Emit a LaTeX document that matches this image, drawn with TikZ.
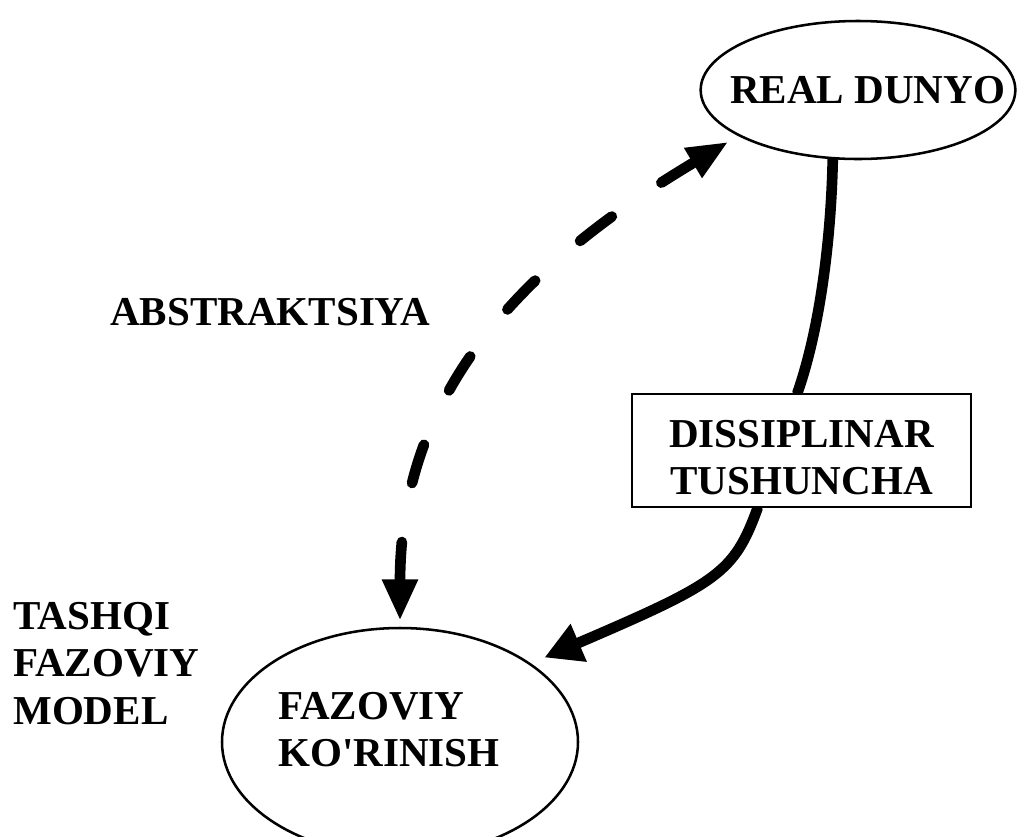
\documentclass[tikz,border=0pt]{standalone}
\usepackage{fontspec}
\newfontfamily\lblfam{Liberation Serif}[Ligatures=TeXOff]
\usetikzlibrary{shapes.geometric,arrows.meta,backgrounds}
\newcommand\lblfont{\lblfam\fontsize{30.8pt}{35.5pt}\selectfont\bfseries}
\begin{document}
\begin{tikzpicture}[x=0.75pt,y=-0.75pt,
  outline/.style={draw, line width=1.9pt, fill=white, inner sep=0pt},
  lbl/.style={font=\lblfont, inner sep=0pt, align=left},
  link/.style={line width=8pt, line cap=round},
  bighead/.style={-{Triangle[length=28pt,width=29pt]}},
  dashhead/.style={{Triangle[length=31pt,width=25pt]}-{Triangle[length=31pt,width=24pt]}}]
\useasboundingbox (0,0) rectangle (1020,836);

% the two ellipses and their captions
\node[outline, ellipse, minimum width=236pt, minimum height=103.5pt] (rd) at (858,90) {};
\node[lbl, anchor=base west] (rdl) at (730,103) {REAL DUNYO};
\node[outline, ellipse, minimum width=267pt, minimum height=171pt] (fz) at (400,742) {};
\node[lbl, anchor=north west] (fzl) at (278,692) {FAZOVIY\\KO'RINISH};

% boxed concept sitting on the solid link
\node[outline, rectangle, font=\lblfont, align=center,
      minimum width=254pt, minimum height=84.75pt] (dt) at (801.5,450.5)
      {\rule{0pt}{31pt}DISSIPLINAR\\TUSHUNCHA};

% free labels
\node[lbl, anchor=base west] (abs) at (110,325) {ABSTRAKTSIYA};
\node[lbl, anchor=north west] (tfm) at (13,602) {TASHQI\\FAZOVIY\\MODEL};

% connectors, kept behind the shapes
\begin{pgfonlayer}{background}
\draw[link] (rd.-110) .. controls (831,240) and (820,328) .. ([xshift=-3pt]dt.north);
\draw[link, bighead, shorten >=11pt]
  ([xshift=-33pt]dt.south) .. controls (734,573) and (718,583) .. (fz.31);
\draw[link, dashhead, dash pattern=on 30pt off 45pt, shorten <=4.5pt, shorten >=8.5pt]
  (fz.north) .. controls (400,387) and (529,261) .. (rd.201);
\end{pgfonlayer}
\end{tikzpicture}
\end{document}
